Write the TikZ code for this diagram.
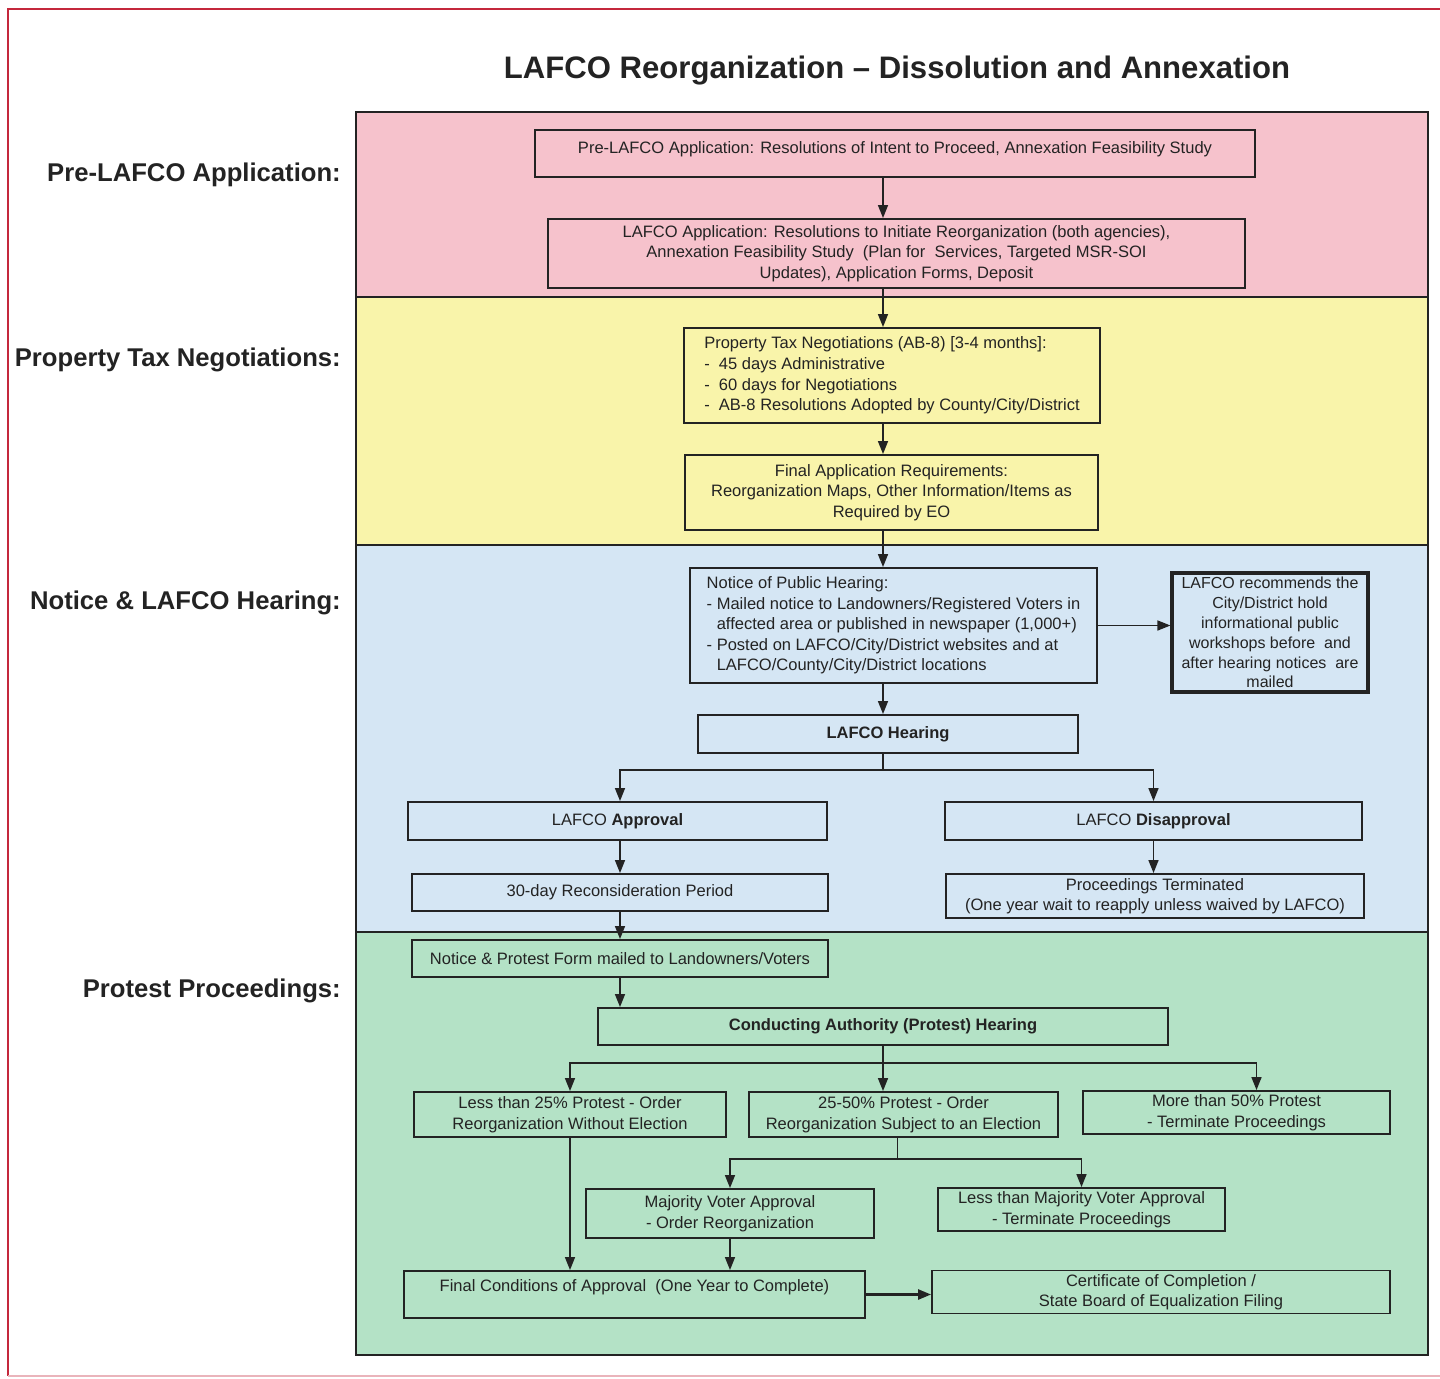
\documentclass[tikz,border=0pt]{standalone}
\usepackage{fontspec}
\setmainfont{Liberation Sans}
\usetikzlibrary{positioning, arrows.meta, calc}
\definecolor{bandpink}{RGB}{246,194,204}
\definecolor{bandyellow}{RGB}{249,244,170}
\definecolor{bandblue}{RGB}{213,230,244}
\definecolor{bandgreen}{RGB}{180,226,198}
\definecolor{framered}{RGB}{196,40,60}
\definecolor{ink}{RGB}{35,35,35}
\tikzset{
  band/.style={draw=ink, line width=1.1pt},
  stepbox/.style={rectangle, draw=ink, line width=1.1pt, align=center, inner sep=2pt, font=\fontsize{9.4}{11.7}\selectfont, text=ink},
  notebox/.style={stepbox, line width=1.8pt, font=\fontsize{9.1}{11.3}\selectfont},
  phase/.style={anchor=east, font=\fontsize{14.6}{17}\selectfont\bfseries, text=ink},
  heading/.style={font=\fontsize{17.7}{21}\selectfont\bfseries, text=ink},
  arrow/.style={draw=ink, line width=0.9pt, -{Triangle[length=2.6mm,width=2mm]}}
}
\begin{document}
\begin{tikzpicture}[x=0.02cm, y=-0.02cm]
        \useasboundingbox (0,0) rectangle (1440,1379);
        \draw [framered, line width=1pt] (1440,9) -- (8,9) -- (8,1376);
        \draw [framered!35, line width=0.8pt] (8,1376) -- (1440,1376);

        \draw [band, fill=bandpink] (356,112) rectangle (1428,297);
        \draw [band, fill=bandyellow] (356,297) rectangle (1428,545);
        \draw [band, fill=bandblue] (356,545) rectangle (1428,932);
        \draw [band, fill=bandgreen] (356,932) rectangle (1428,1355);

        \node (title) [heading] at (897,71) {LAFCO Reorganization -- Dissolution and Annexation};
        \node (lblpre) [phase] at (347,175) {Pre-LAFCO Application:};
        \node (lbltax) [phase] at (347,360) {Property Tax Negotiations:};
        \node (lblhear) [phase] at (347,603) {Notice \& LAFCO Hearing:};
        \node (lblprot) [phase] at (347,991) {Protest Proceedings:};
        \coordinate (spine) at (883,0);

        \node (pre) [stepbox, minimum width=14.4cm, minimum height=0.94cm] at (895,153.5) {Pre-LAFCO Application: Resolutions of Intent to Proceed, Annexation Feasibility Study\\[-8pt] \strut};
        \node (app) [stepbox, minimum width=13.94cm, minimum height=1.38cm] at (896.5,253.5) {LAFCO Application: Resolutions to Initiate Reorganization (both agencies),\\ Annexation Feasibility Study \ (Plan for \ Services, Targeted MSR-SOI\\ Updates), Application Forms, Deposit};
        \node (tax) [stepbox, align=left, minimum width=8.32cm, minimum height=1.9cm] at (892,375.5) {Property Tax Negotiations (AB-8) [3-4 months]:\\ - \ 45 days Administrative\\ - \ 60 days for Negotiations\\ - \ AB-8 Resolutions Adopted by County/City/District};
        \node (req) [stepbox, minimum width=8.26cm, minimum height=1.5cm] at (891.5,492.5) {Final Application Requirements:\\ Reorganization Maps, Other Information/Items as\\ Required by EO};
        \node (notice) [stepbox, align=left, minimum width=8.14cm, minimum height=2.3cm] at (893.5,625.5) {Notice of Public Hearing:\\ - Mailed notice to Landowners/Registered Voters in\\ \phantom{- }affected area or published in newspaper (1,000+)\\ - Posted on LAFCO/City/District websites and at\\ \phantom{- }LAFCO/County/City/District locations};
        \node (rec) [notebox, minimum width=3.92cm, minimum height=2.38cm] at (1270,632.5) {LAFCO recommends the\\ City/District hold\\ informational public\\ workshops before \ and\\ after hearing notices \ are\\ mailed};
        \node (hearing) [stepbox, minimum width=7.6cm, minimum height=0.76cm] at (888,734) {\textbf{LAFCO Hearing}};
        \node (approval) [stepbox, minimum width=8.38cm, minimum height=0.76cm] at (617.5,821) {LAFCO \textbf{Approval}};
        \node (disapproval) [stepbox, minimum width=8.34cm, minimum height=0.76cm] at (1153.5,821) {LAFCO \textbf{Disapproval}};
        \node (recon) [stepbox, minimum width=8.32cm, minimum height=0.74cm] at (620,892.5) {30-day Reconsideration Period};
        \node (terminated) [stepbox, minimum width=8.36cm, minimum height=0.88cm] at (1155,896) {Proceedings Terminated\\ (One year wait to reapply unless waived by LAFCO)};
        \node (mailed) [stepbox, minimum width=8.32cm, minimum height=0.74cm] at (620,958.5) {Notice \& Protest Form mailed to Landowners/Voters};
        \node (conducting) [stepbox, minimum width=11.4cm, minimum height=0.74cm] at (883,1026.5) {\textbf{Conducting Authority (Protest) Hearing}};
        \node (less25) [stepbox, minimum width=6.24cm, minimum height=0.9cm] at (570,1114.5) {Less than 25\% Protest - Order\\ Reorganization Without Election};
        \node (mid) [stepbox, minimum width=6.18cm, minimum height=0.9cm] at (903.5,1114.5) {25-50\% Protest - Order\\ Reorganization Subject to an Election};
        \node (more50) [stepbox, minimum width=6.14cm, minimum height=0.82cm] at (1236.5,1112.5) {More than 50\% Protest\\ - Terminate Proceedings};
        \node (majority) [stepbox, minimum width=5.76cm, minimum height=0.98cm] at (730,1213.5) {Majority Voter Approval\\ - Order Reorganization};
        \node (lessmaj) [stepbox, minimum width=5.74cm, minimum height=0.82cm] at (1081.5,1209.5) {Less than Majority Voter Approval\\ - Terminate Proceedings};
        \node (finalcond) [stepbox, minimum width=9.22cm, minimum height=0.94cm] at (634.5,1294.5) {Final Conditions of Approval \ (One Year to Complete)\\[-4.5pt] \strut};
        \node (cert) [stepbox, minimum width=9.16cm, minimum height=0.84cm] at (1161,1292) {Certificate of Completion /\\ State Board of Equalization Filing};

        \draw [arrow] (pre.south -| spine) -- (app.north -| spine);
        \draw [arrow] (app.south -| spine) -- (tax.north -| spine);
        \draw [arrow] (tax.south -| spine) -- (req.north -| spine);
        \draw [arrow] (req.south -| spine) -- (notice.north -| spine);
        \draw [arrow] (notice.east) -- (notice.east -| rec.west);
        \draw [arrow] (notice.south -| spine) -- (hearing.north -| spine);
        \draw [arrow] (hearing.south -| spine) -- ++(0,16) -| (recon.north |- approval.north);
        \draw [arrow] (hearing.south -| spine) -- ++(0,16) -| (disapproval.north);
        \draw [arrow] (recon.north |- approval.south) -- (recon.north);
        \draw [arrow] (disapproval.south) -- (disapproval.south |- terminated.north);
        \draw [arrow] (recon) -- (mailed);
        \draw [arrow] (mailed.south) -- (mailed.south |- conducting.north);
        \draw [arrow] (conducting.south -| spine) -- ++(0,17) -| (less25.north);
        \draw [arrow] (conducting.south -| spine) -- (mid.north -| spine);
        \draw [arrow] (conducting.south -| spine) -- ++(0,17) -| ($(more50.north)+(20,0)$);
        \draw [arrow] ($(mid.south)+(-6,0)$) -- ++(0,21) -| (majority.north);
        \draw [arrow] ($(mid.south)+(-6,0)$) -- ++(0,21) -| (lessmaj.north);
        \draw [arrow] (less25.south) -- (less25.south |- finalcond.north);
        \draw [arrow] (majority.south) -- (majority.south |- finalcond.north);
        \draw [arrow, line width=1.4pt] (finalcond.east) -- (finalcond.east -| cert.west);
    \end{tikzpicture}
\end{document}
